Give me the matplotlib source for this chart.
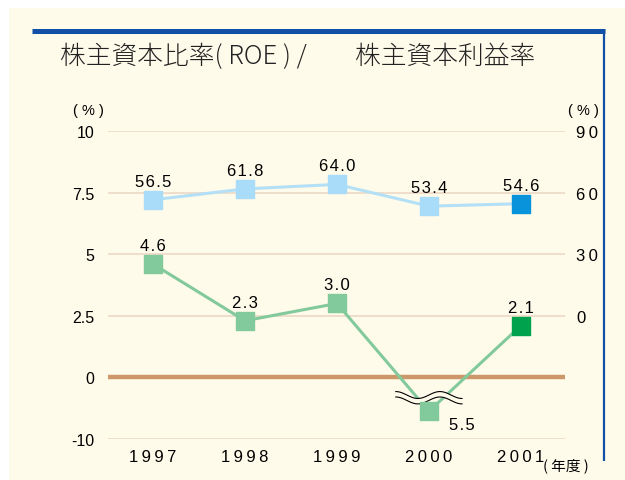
import matplotlib
matplotlib.use("Agg")
import matplotlib.pyplot as plt
import numpy as np
from matplotlib.patches import Rectangle, Polygon
from matplotlib.lines import Line2D

years = ["1997", "1998", "1999", "2000", "2001"]
equity_ratio = [56.5, 61.8, 64.0, 53.4, 54.6]   # right axis, %
roe = [4.6, 2.3, 3.0, -5.5, 2.1]               # left axis, %
left_ticks = [10, 7.5, 5, 2.5, 0, -10]
left_labels = ["10", "7.5", "5", "2.5", "0", "-10"]
right_ticks = [0, 30, 60, 90]

CREAM = "#fffbea"
NAVY = "#1150a6"
GRID = "#ecd9c6"
ZERO = "#cc9869"
BLUE_L, BLUE_D = "#a9dcf8", "#0893da"
GREEN_L, GREEN_D = "#82c99c", "#00a24e"
LATIN = ["Liberation Sans", "DejaVu Sans"]
CJK = ["Noto Sans CJK JP", "DejaVu Sans"]


def spaced(s, gap="\u200a"):
    return gap.join(s)


def to_left(v):
    # below zero the left scale is squeezed: -10 sits one grid step under 0
    return v if v >= 0 else v * 0.25


def to_right(r):
    # right axis: 0 -> 2.5, 90 -> 10 on the left scale
    return r / 12 + 2.5


fig = plt.figure(figsize=(6.25, 4.81), dpi=100)
fig.patch.set_facecolor("white")
W, H = 625, 481
fig.patches.append(Rectangle((9 / W, 0), 1, 1 - 9 / H, transform=fig.transFigure,
                             facecolor=CREAM, edgecolor="none", zorder=-5))
fig.lines.append(Line2D([32 / W, 605 / W], [1 - 31.5 / H] * 2, transform=fig.transFigure,
                        color=NAVY, lw=3.6, solid_capstyle="butt", zorder=-4))
fig.lines.append(Line2D([604 / W] * 2, [1 - 30 / H, 1 - 462 / H], transform=fig.transFigure,
                        color=NAVY, lw=1.6, solid_capstyle="butt", zorder=-4))

ax = fig.add_axes([108 / W, 1 - 440 / H, (565 - 108) / W, (440 - 132) / H])
ax.set_zorder(2)
ax.set_facecolor("none")
for s in ax.spines.values():
    s.set_visible(False)
x = np.arange(len(years))
ax.set_xlim(-0.49, 4.48)
ax.set_ylim(-2.5, 10)

for t in left_ticks:
    if t != 0:
        ax.axhline(to_left(t), color=GRID, lw=1.2, zorder=1)
ax.axhline(0, color=ZERO, lw=3.2, zorder=2)

ax.set_yticks([to_left(t) for t in left_ticks])
ax.set_yticklabels(left_labels, family=LATIN, fontsize=11.5)
ax.set_xticks(x)
ax.set_xticklabels([spaced(y, "\u2009") for y in years], family=LATIN, fontsize=12)
ax.tick_params(length=0, pad=10)
ax.tick_params(axis="x", pad=7)

axr = ax.twinx()
axr.set_ylim(-60, 90)
for s in axr.spines.values():
    s.set_visible(False)
axr.set_yticks(right_ticks)
axr.set_yticklabels([spaced(str(t), "\u2009") for t in right_ticks], family=LATIN, fontsize=12)
axr.tick_params(length=0, pad=8)

# equity ratio (right scale, drawn on left axis coordinates)
ye = [to_right(v) for v in equity_ratio]
ax.plot(x, ye, color="#b4e0f7", lw=2.2, zorder=3)
ax.scatter(x[:-1], ye[:-1], marker="s", s=150, color=BLUE_L, zorder=4, clip_on=False)
ax.scatter(x[-1:], ye[-1:], marker="s", s=150, color=BLUE_D, zorder=4, clip_on=False)
for xi, yi, v in zip(x, ye, equity_ratio):
    ax.annotate(spaced(f"{v:.1f}"), (xi, yi), xytext=(0, 8), textcoords="offset points",
                ha="center", va="bottom", fontsize=12, family=LATIN)

# ROE (left scale)
yr = [to_left(v) for v in roe]
ax.plot(x, yr, color=GREEN_L, lw=2.2, zorder=3)
ax.scatter(x[:-1], yr[:-1], marker="s", s=150, color=GREEN_L, zorder=6, clip_on=False)
ax.scatter(x[-1:], yr[-1:], marker="s", s=150, color=GREEN_D, zorder=6, clip_on=False)
for xi, yi, v in zip(x, yr, roe):
    if v < 0:
        ax.annotate(spaced(f"{abs(v):.1f}"), (xi, yi), xytext=(24, -4), textcoords="offset points",
                    ha="center", va="top", fontsize=12, family=LATIN)
    else:
        ax.annotate(spaced(f"{v:.1f}"), (xi, yi), xytext=(0, 8), textcoords="offset points",
                    ha="center", va="bottom", fontsize=12, family=LATIN)

# break mark over the 2000 drop
bx = x[3]
by = yr[3] * 0.6
t = np.linspace(-0.36, 0.36, 60)
wave = 0.14 * np.sin(t / 0.36 * np.pi * 1.5)
upper = by + 0.11 + wave
lower = by - 0.11 + wave
band = np.column_stack([np.r_[bx + t, bx + t[::-1]], np.r_[upper, lower[::-1]]])
ax.add_patch(Polygon(band, closed=True, facecolor=CREAM, edgecolor="none", zorder=5))
ax.plot(bx + t, upper, color="black", lw=0.8, zorder=5)
ax.plot(bx + t, lower, color="black", lw=0.8, zorder=5)

fig.text(60 / W, 1 - 57 / H, "株主資本比率( ROE ) /", family=CJK, fontsize=18.5,
         va="center", ha="left", color="#222222", fontweight="light")
fig.text(355 / W, 1 - 57 / H, "株主資本利益率", family=CJK, fontsize=18.5,
         va="center", ha="left", color="#222222", fontweight="light")
fig.text(88 / W, 1 - 111 / H, "( % )", family=LATIN, fontsize=10.5, ha="center", va="center")
fig.text(583 / W, 1 - 111 / H, "( % )", family=LATIN, fontsize=10.5, ha="center", va="center")
fig.text(566 / W, 1 - 466 / H, "( 年度 )", family=CJK, fontsize=10.5, ha="center", va="center")

fig.savefig("out.png", dpi=100)
